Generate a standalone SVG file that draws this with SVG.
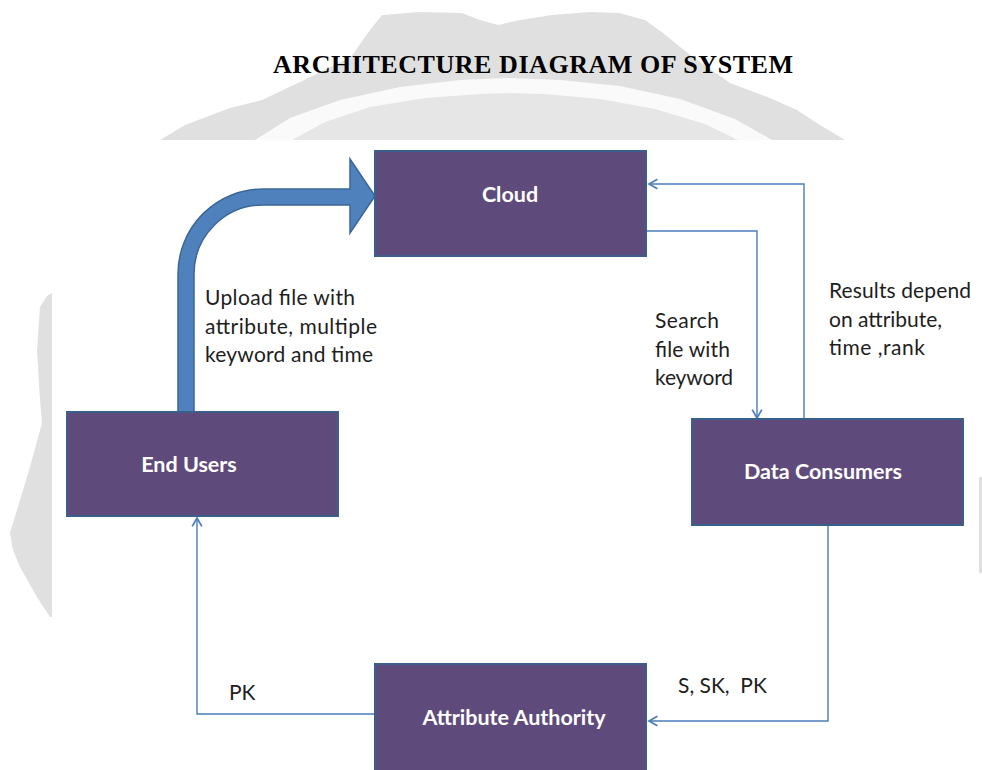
<svg xmlns="http://www.w3.org/2000/svg" width="982" height="770" viewBox="0 0 982 770">
  <style>
    .node rect { fill: #5f4b7b; stroke: #3a5f8c; stroke-width: 2; }
    .node text { font-family: Lato, "Open Sans", "Liberation Sans", sans-serif; font-weight: bold; font-size: 21.5px; fill: #ffffff; text-anchor: middle; }
    .label { font-family: Lato, "Open Sans", "Liberation Sans", sans-serif; font-size: 21px; fill: #1e1e1e; white-space: pre; }
    .link { fill: none; stroke: #4a7ebb; stroke-width: 1.4; }
    .title { font-family: "Liberation Serif", "Times New Roman", serif; font-weight: bold; font-size: 26px; fill: #000000; }
    .wm-dark { fill: #e0e0e0; }
    .wm-light { fill: #e6e6e6; }
  </style>
  <defs>
    <marker id="open-arrow" markerUnits="userSpaceOnUse" markerWidth="12" markerHeight="12" viewBox="-8 -5 10 10" refX="0" refY="0" orient="auto">
      <path d="M-7,-4 L0,0 L-7,4" fill="none" stroke="#4a7ebb" stroke-width="1.4"/>
    </marker>
  </defs>

  <rect x="0" y="0" width="982" height="770" fill="#ffffff"/>

  <!-- faint background emblem -->
  <g id="background-emblem">
    <path class="wm-dark" d="M160,140 L185,125 L230,108 L262,100 L300,82 L351,57 L370,30 L382,15 L420,12 L462,13 L480,20 L498,25 L520,20 L552,15 L590,12 L619,13 L645,20 L663,33 L690,55 L730,83 L770,98 L797,110 L820,125 L845,140 Z"/>
    <path fill="#fafafa" d="M255,140 L290,118 L340,100 L400,87 L460,80 L507,78 L560,80 L620,86 L680,99 L735,119 L772,140 Z"/>
    <path class="wm-light" d="M292,140 L325,122 L370,107 L425,98 L480,94 L507,93 L545,94 L600,99 L655,109 L705,124 L738,140 Z"/>
    <path class="wm-dark" d="M52,293 L47,296 L40,307 L37,350 L40,400 L42,423 L30,467 L17,510 L10,533 L13,550 L20,567 L37,597 L50,617 L52,617 Z"/>
    <rect class="wm-dark" x="979" y="477" width="3" height="96"/>
  </g>

  <text class="title" x="273" y="73" textLength="520">ARCHITECTURE DIAGRAM OF SYSTEM</text>

  <!-- connectors -->
  <g id="connectors">
    <path class="link" d="M647,231 H757 V418" marker-end="url(#open-arrow)"/>
    <path class="link" d="M804,419 V184 H649" marker-end="url(#open-arrow)"/>
    <path class="link" d="M828,525 V721 H649" marker-end="url(#open-arrow)"/>
    <path class="link" d="M375,714 H197 V518" marker-end="url(#open-arrow)"/>
    <path id="upload-arrow" d="M178,413 L178,274 A85,85 0 0 1 263,189 L350,189 L350,159 L375,196 L350,233 L350,205 L263,205 A69,69 0 0 0 194,274 L194,413 Z" fill="#4f81bd" stroke="#3b6798" stroke-width="1.5" stroke-linejoin="miter"/>
  </g>

  <!-- nodes -->
  <g id="cloud" class="node">
    <rect x="375" y="151" width="271" height="105"/>
    <text x="510" y="202">Cloud</text>
  </g>
  <g id="end-users" class="node">
    <rect x="67" y="412" width="271" height="104"/>
    <text x="189" y="472">End Users</text>
  </g>
  <g id="data-consumers" class="node">
    <rect x="692" y="419" width="271" height="106"/>
    <text x="823" y="479">Data Consumers</text>
  </g>
  <g id="attribute-authority" class="node">
    <rect x="375" y="664" width="271" height="110"/>
    <text x="514" y="725">Attribute Authority</text>
  </g>

  <!-- connector labels -->
  <g id="labels">
    <text class="label" x="205" y="305" textLength="150">Upload file with</text>
    <text class="label" x="205" y="334" textLength="172">attribute, multiple</text>
    <text class="label" x="205" y="362" textLength="168">keyword and time</text>
    <text class="label" x="655" y="328" textLength="64">Search</text>
    <text class="label" x="655" y="357" textLength="75">file with</text>
    <text class="label" x="655" y="385" textLength="78">keyword</text>
    <text class="label" x="829" y="298" textLength="142">Results depend</text>
    <text class="label" x="829" y="327">on attribute,</text>
    <text class="label" x="829" y="355" textLength="96">time ,rank</text>
    <text class="label" x="229" y="700">PK</text>
    <text class="label" x="678" y="693">S, SK,  PK</text>
  </g>
</svg>
